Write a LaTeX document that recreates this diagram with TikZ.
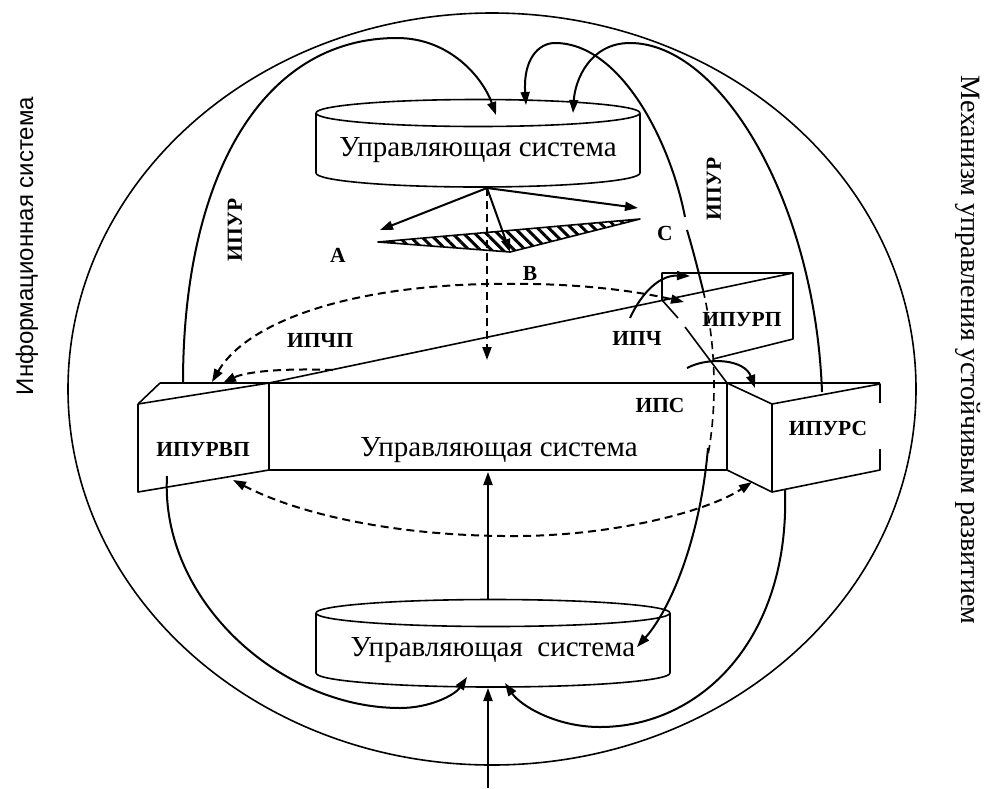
\documentclass[tikz,border=0pt]{standalone}
\usepackage{fontspec}
\setmainfont{Liberation Serif}
\newfontfamily\sidefont{Liberation Sans}
\usetikzlibrary{arrows.meta,patterns.meta}
\begin{document}
\begin{tikzpicture}[x=1pt,y=-1pt,
  >={Triangle[length=13pt,width=9pt]},
  ln/.style={line width=1.6pt, line join=round},
  crv/.style={line width=2pt},
  dsh/.style={line width=2pt, dash pattern=on 8pt off 5pt},
  lbl/.style={font=\fontsize{21.5}{24}\selectfont\bfseries, inner sep=0pt},
  bigtext/.style={font=\fontsize{29}{34}\selectfont, inner sep=0pt},
  sidetext/.style={font=\sidefont\fontsize{24}{28}\selectfont, inner sep=0pt},
  sidetextR/.style={font=\fontsize{28}{32}\selectfont, inner sep=0pt}]
\useasboundingbox (0,0) rectangle (984,788);

% outer ellipse
\draw[ln] (492,389) ellipse [x radius=424, y radius=376];

% side texts
\node[sidetext, rotate=90] (info) at (27,246) {Информационная система};
\node[sidetextR, rotate=-90] (mech) at (968,350) {Механизм управления устойчивым развитием};

% top cylinder
\draw[ln] (478,113) ellipse [x radius=162, y radius=13.5];
\draw[ln] (316,113) -- (316,173) arc[start angle=180, end angle=0, x radius=162, y radius=14] -- (640,113);
\node[bigtext] (topsys) at (478,150) {Управляющая система};

% bottom cylinder
\draw[ln] (493,613) ellipse [x radius=177, y radius=13.5];
\draw[ln] (316,613) -- (316,673) arc[start angle=180, end angle=0, x radius=177, y radius=14] -- (670,613);
\node[bigtext] (botsys) at (493,650) {Управляющая\ \ система};

% central prism
\draw[ln] (160,383) -- (880,383);
\draw[ln] (138,404) -- (160,383);
\draw[ln] (138,404) -- (269,383);
\draw[ln] (138,404) -- (138,492) -- (269,470) -- (269,383);
\draw[ln] (269,470) -- (727,470) -- (727,383);
\draw[ln] (269,383) -- (793,273);
% ИПУРП box
\draw[ln] (662,300) -- (662,273) -- (793,273) -- (793,339) -- (713,359);
\draw[ln] (662,300) -- (678,318);
\draw[ln] (685,327) -- (727,383);
% ИПУРС box
\draw[ln] (727,383) -- (772,404) -- (772,492) -- (727,470);
\draw[ln] (772,404) -- (880,384) -- (880,403);
\draw[ln] (880,449) -- (880,470) -- (772,492);

\node[bigtext] (midsys) at (499,450) {Управляющая система};
\node[lbl] (ipurvp) at (203,450) {ИПУРВП};
\node[lbl] (ipurs) at (828,428) {ИПУРС};
\node[lbl] (ipurp) at (742,320) {ИПУРП};
\node[lbl] (ips) at (660,405) {ИПС};
\node[lbl] (ipch) at (637,338) {ИПЧ};
\node[lbl] (ipchp) at (320,340) {ИПЧП};
\node[lbl, rotate=90] (ipurL) at (235,230) {ИПУР};
\node[lbl, rotate=90] (ipurR) at (714,189) {ИПУР};
\node[lbl] (lA) at (338,255) {A};
\node[lbl] (lB) at (530,273) {B};
\node[lbl] (lC) at (665,233) {C};

% hatched triangle
\draw[ln, pattern={Lines[angle=-45,distance=8pt,line width=3pt]}] (378,242) -- (640,219) -- (510,252) -- cycle;

% arrows from apex
\coordinate (apex) at (487,188);
\coordinate (pA) at (380,230);
\coordinate (pB) at (510,252);
\coordinate (pC) at (638,208);
\draw[crv,->] (apex) -- (pA);
\draw[crv,->] (apex) -- (pB);
\draw[crv,->] (apex) -- (pC);
\coordinate (dv) at (487,360);
\draw[dsh,->] (apex) -- (dv);

% vertical solid arrows
\coordinate (bc1) at (488,600);
\coordinate (mb) at (488,472);
\draw[crv,->] (bc1) -- (mb);
\coordinate (inp) at (488,788);
\coordinate (bcb) at (488,688);
\draw[crv,->] (inp) -- (bcb);

% left ИПУР curve
\coordinate (c1s) at (183,383);
\coordinate (c1e) at (496,115);
\draw[crv,->] (c1s) .. controls (183,180) and (260,38) .. (397,38)
  .. controls (450,38) and (483,78) .. (c1e);

% right ИПУР curve
\coordinate (c3s) at (822,392);
\coordinate (c3e) at (573,113);
\draw[crv,->] (c3s) .. controls (815,200) and (720,43) .. (630,43)
  .. controls (590,43) and (575,80) .. (c3e);

% long curve top -> bottom cylinder
\coordinate (c2s) at (526,105);
\coordinate (c2e) at (637,647);
\draw[crv,<-] (c2s) .. controls (523,60) and (538,43) .. (555,43)
  .. controls (620,43) and (670,140) .. (685,217);
\draw[crv] (687,230) .. controls (693,250) and (698,270) .. (703,290);
\draw[line width=1.6pt, dash pattern=on 8pt off 5pt] (703,290) .. controls (715,340) and (718,400) .. (708,455);
\draw[crv,->] (708,448) .. controls (700,540) and (670,610) .. (c2e);

% ИПУРВП -> bottom cylinder
\coordinate (c4s) at (167,476);
\coordinate (c4e) at (467,677);
\draw[crv,->] (c4s) .. controls (160,600) and (280,708) .. (400,708)
  .. controls (430,708) and (455,695) .. (c4e);

% ИПУРС -> bottom cylinder
\coordinate (c5s) at (785,490);
\coordinate (c5e) at (505,683);
\draw[crv,->] (c5s) .. controls (790,640) and (700,727) .. (600,727)
  .. controls (555,727) and (520,705) .. (c5e);

% ИПЧ arrow
\coordinate (c6s) at (630,318);
\coordinate (c6e) at (690,276);
\draw[crv,->] (c6s) .. controls (642,292) and (660,275) .. (c6e);

% ИПС arrow
\coordinate (c7s) at (687,368);
\coordinate (c7e) at (755,388);
\draw[crv,->] (c7s) .. controls (710,356) and (745,360) .. (c7e);

% dashed upper curve
\coordinate (d1L) at (212,382);
\coordinate (d1R) at (684,302);
\draw[dsh,<->] (d1L) .. controls (245,325) and (340,287) .. (487,284)
  .. controls (580,282) and (640,292) .. (d1R);
\coordinate (d2s) at (333,370);
\coordinate (d2e) at (223,383);
\draw[dsh,->] (d2s) .. controls (280,368) and (245,372) .. (d2e);

% dashed lower curve
\coordinate (d3L) at (233,480);
\coordinate (d3R) at (752,482);
\draw[dsh,<->] (d3L) .. controls (300,515) and (400,537) .. (520,536)
  .. controls (620,535) and (710,510) .. (d3R);
\end{tikzpicture}
\end{document}
